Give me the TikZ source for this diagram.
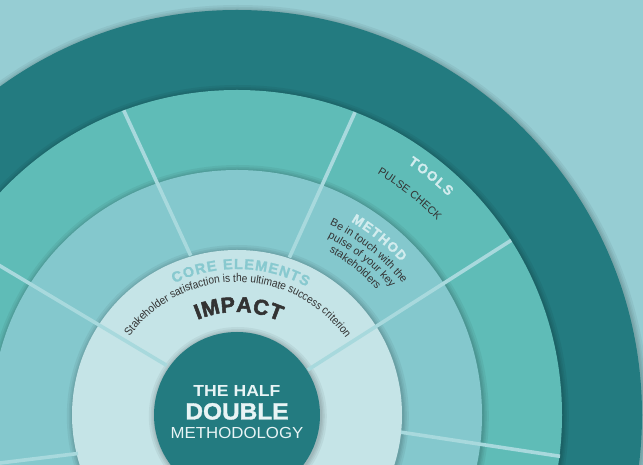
\documentclass[tikz,border=0pt]{standalone}
\usepackage{fontspec}
\setmainfont{Liberation Sans}
\setsansfont{Liberation Sans}
\newfontfamily\heavysans{Liberation Sans Bold}[FakeBold=1.4]
\newfontfamily\blacksans{Liberation Sans Bold}[FakeBold=2.4]
\newfontfamily\narrowsans{Liberation Sans}[FakeStretch=0.9]
\usetikzlibrary{decorations.text}

% palette
\definecolor{bgblue}{HTML}{96CDD3}
\definecolor{deepteal}{HTML}{237B80}
\definecolor{toolteal}{HTML}{5FBCB7}
\definecolor{methodteal}{HTML}{84C8CD}
\definecolor{corepale}{HTML}{C5E4E7}
\definecolor{spokecol}{HTML}{A8D9DD}
\definecolor{inkgray}{HTML}{333333}
\definecolor{coretitle}{HTML}{88C9CF}
\definecolor{ringtitle}{HTML}{D2ECEE}
\definecolor{centretext}{HTML}{E8F4F5}

% font switches for the curved labels
\newcommand\fsCore{\fontsize{14.5}{16}\selectfont\heavysans}
\newcommand\fsSmall{\fontsize{11.3}{13}\selectfont\narrowsans}
\newcommand\fsImpact{\fontsize{21.5}{24}\selectfont\blacksans}
\newcommand\fsRing{\fontsize{13.5}{15}\selectfont\heavysans}
\newcommand\fsBody{\fontsize{10.8}{12}\selectfont}

\tikzset{
  spoke/.style={draw=spokecol, line width=3.6pt},
  arclabel/.style={decorate, decoration={text along path, text align=center, text={#1}}},
  fitlabel/.style={decorate, decoration={text along path, text align=fit to path, text={#1}}},
  centretxt/.style={text=centretext, inner sep=0pt, anchor=base},
}

\begin{document}
\begin{tikzpicture}[x=1pt,y=1pt]
\useasboundingbox (0,0) rectangle (643,465);
\fill[bgblue] (0,0) rectangle (643,465);
\coordinate (O) at (237,50);

\begin{scope}
\clip (0,0) rectangle (643,465);
% concentric discs, each with a soft shadow fringe
\foreach \R/\col in {405/deepteal, 325/toolteal, 245/methodteal, 165/corepale, 83/deepteal} {
  \foreach \k in {6,4,2.5,1.2}
    \fill[black, opacity=0.05, shift={(O)}] (0.8,-1) circle[radius=\R+\k];
  \fill[\col, shift={(O)}] (0,0) circle[radius=\R];
}

% separators between the sections
\begin{scope}[shift={(O)}]
  \draw[spoke] (32.5:84) -- (32.5:325);
  \draw[spoke] (71.6:166) -- (68.7:325);
  \draw[spoke] (106.2:166) -- (110.4:325);
  \draw[spoke] (144.8:86) -- (148:325);
\end{scope}
\draw[spoke] (401,32.8) -- (560,8.7);
\draw[spoke] (78,11.5) -- (-10,0.8);
\end{scope}

% core ring labels
\path[fitlabel={|\fsCore\color{coretitle}|CORE ELEMENTS}, shift={(O)}]
  (115.5:146) arc[start angle=115.5, end angle=61.5, radius=146];
\path[arclabel={|\fsSmall\color{inkgray}|Stakeholder satisfaction is the ultimate success criterion}, shift={(O)}]
  (152:133) arc[start angle=152, end angle=27, radius=133];
\path[fitlabel={|\fsImpact\color{inkgray}|IMPACT}, shift={(O)}]
  (112.5:103) arc[start angle=112.5, end angle=65.5, radius=103];

% method ring labels
\path[fitlabel={|\fsRing\color{ringtitle}|METHOD}, shift={(O)}]
  (59.5:224.5) arc[start angle=59.5, end angle=43, radius=224.5];
\path[arclabel={|\fsBody\color{inkgray}|Be in touch with the}, shift={(O)}]
  (76.25:211.5) arc[start angle=76.25, end angle=26.25, radius=211.5];
\path[arclabel={|\fsBody\color{inkgray}|pulse of your key}, shift={(O)}]
  (76.25:199.5) arc[start angle=76.25, end angle=26.25, radius=199.5];
\path[arclabel={|\fsBody\color{inkgray}|stakeholders}, shift={(O)}]
  (76.25:187.5) arc[start angle=76.25, end angle=26.25, radius=187.5];

% tools ring labels
\path[fitlabel={|\fsRing\color{ringtitle}|TOOLS}, shift={(O)}]
  (55.8:304) arc[start angle=55.8, end angle=46, radius=304];
\path[arclabel={|\fsBody\color{inkgray}|PULSE CHECK}, shift={(O)}]
  (72:279) arc[start angle=72, end angle=32, radius=279];

% centre title
\node[centretxt, font=\fontsize{16}{18}\selectfont\bfseries, xscale=1.1] (thehalf) at (237,68) {THE HALF};
\node[centretxt, font=\fontsize{23.5}{26}\selectfont\heavysans, xscale=1.04] (double) at (237,45.5) {DOUBLE};
\node[centretxt, font=\fontsize{16}{18}\selectfont, xscale=1.05] (methodology) at (237,26.5) {METHODOLOGY};
\end{tikzpicture}
\end{document}
